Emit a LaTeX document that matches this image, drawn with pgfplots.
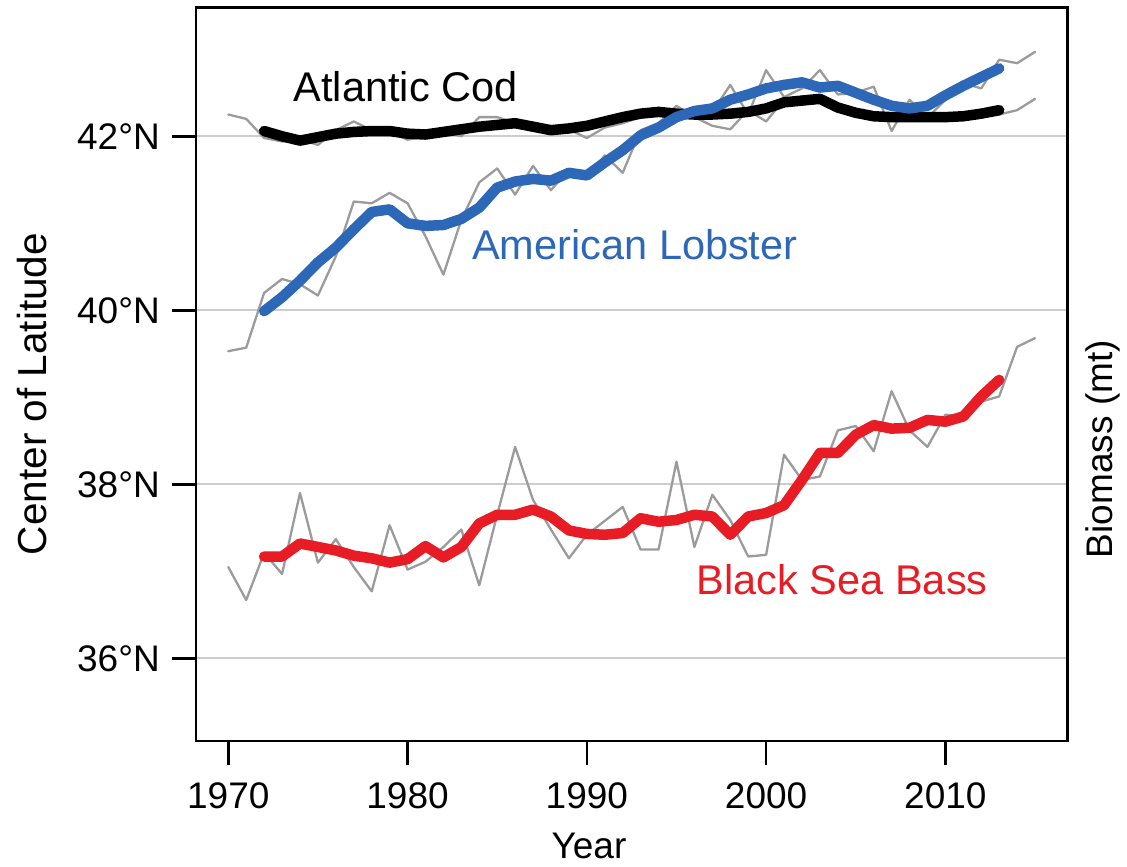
\documentclass[border=0pt]{standalone}
\usepackage{fontspec}
\setmainfont{Liberation Sans}
\usepackage{pgfplots}
\usepackage{pgfplotstable}
\pgfplotsset{compat=1.18}

\definecolor{lobsterblue}{RGB}{44,103,184}
\definecolor{bassred}{RGB}{232,28,36}
\definecolor{rawgray}{RGB}{155,155,155}
\definecolor{gridgray}{RGB}{205,205,205}

% annual centre of latitude (thin grey lines)
\pgfplotstableread{
year cod   lobster bass
1970 42.25 39.53 37.05
1971 42.20 39.57 36.67
1972 41.98 40.20 37.21
1973 41.94 40.36 36.97
1974 41.97 40.30 37.90
1975 41.90 40.17 37.10
1976 42.07 40.62 37.37
1977 42.17 41.25 37.05
1978 42.07 41.23 36.77
1979 42.05 41.35 37.53
1980 41.96 41.23 37.02
1981 42.00 40.85 37.11
1982 42.05 40.41 37.28
1983 42.00 41.04 37.48
1984 42.22 41.47 36.84
1985 42.22 41.63 37.65
1986 42.15 41.33 38.43
1987 42.12 41.66 37.82
1988 42.05 41.38 37.48
1989 42.08 41.62 37.15
1990 41.98 41.52 37.42
1991 42.10 41.78 37.58
1992 42.15 41.58 37.74
1993 42.22 42.07 37.25
1994 42.32 42.15 37.25
1995 42.30 42.35 38.26
1996 42.22 42.22 37.28
1997 42.12 42.28 37.88
1998 42.08 42.59 37.59
1999 42.30 42.25 37.17
2000 42.17 42.76 37.19
2001 42.42 42.45 38.34
2002 42.45 42.55 38.05
2003 42.42 42.76 38.09
2004 42.32 42.48 38.62
2005 42.25 42.50 38.67
2006 42.22 42.57 38.38
2007 42.20 42.06 39.07
2008 42.25 42.42 38.62
2009 42.22 42.21 38.43
2010 42.18 42.42 38.80
2011 42.20 42.61 38.78
2012 42.22 42.55 38.95
2013 42.25 42.88 39.01
2014 42.30 42.84 39.58
2015 42.43 42.97 39.68
}\rawdata

% smoothed trend (thick lines)
\pgfplotstableread{
year cod   lobster bass
1972 42.06 39.99 37.17
1973 42.00 40.15 37.17
1974 41.95 40.34 37.32
1975 41.99 40.55 37.28
1976 42.03 40.72 37.24
1977 42.05 40.93 37.18
1978 42.06 41.13 37.15
1979 42.06 41.16 37.10
1980 42.03 41.00 37.14
1981 42.02 40.97 37.29
1982 42.05 40.98 37.16
1983 42.08 41.05 37.28
1984 42.11 41.18 37.55
1985 42.13 41.41 37.65
1986 42.15 41.48 37.65
1987 42.11 41.51 37.71
1988 42.07 41.49 37.63
1989 42.09 41.58 37.47
1990 42.12 41.55 37.43
1991 42.17 41.70 37.42
1992 42.22 41.84 37.44
1993 42.26 42.01 37.61
1994 42.28 42.10 37.57
1995 42.26 42.22 37.59
1996 42.25 42.29 37.65
1997 42.25 42.32 37.63
1998 42.26 42.42 37.42
1999 42.28 42.48 37.63
2000 42.32 42.55 37.67
2001 42.39 42.59 37.76
2002 42.41 42.62 38.05
2003 42.43 42.56 38.36
2004 42.33 42.58 38.36
2005 42.27 42.50 38.57
2006 42.23 42.42 38.68
2007 42.22 42.35 38.64
2008 42.22 42.32 38.65
2009 42.22 42.35 38.74
2010 42.22 42.47 38.72
2011 42.23 42.58 38.78
2012 42.26 42.68 39.01
2013 42.30 42.78 39.20
}\smoothdata

\begin{document}
\begin{tikzpicture}
\useasboundingbox (0,0) rectangle (1127pt,867pt);
\begin{axis}[
    at={(196pt,126pt)}, anchor=south west,
    scale only axis, width=871.3pt, height=733.5pt,
    xmin=1968.2, xmax=2016.8,
    ymin=35.05, ymax=43.48,
    clip mode=individual,
    axis line style={line width=2.5pt},
    xtick={1970,1980,1990,2000,2010},
    xticklabels={1970,1980,1990,2000,2010},
    ytick={36,38,40,42},
    yticklabels={36°N,38°N,40°N,42°N},
    xtick pos=bottom, ytick pos=left,
    tick align=outside,
    major tick length=24pt,
    tick style={line width=2.5pt, black},
    ymajorgrids=true,
    grid style={line width=2pt, gridgray},
    ticklabel style={font=\fontsize{37}{40}\selectfont, inner sep=0pt},
    xticklabel style={anchor=north, yshift=-17pt},
    yticklabel style={anchor=east, xshift=-12pt},
    xlabel={Year},
    xlabel style={font=\fontsize{37}{40}\selectfont, inner sep=0pt,
        at={(axis description cs:0.451,-0.1431)}, anchor=center},
    ylabel={Center of Latitude},
    ylabel style={font=\fontsize{40.5}{44}\selectfont, inner sep=0pt,
        at={(axis description cs:-0.1882,0.473)}, anchor=center, rotate=0},
    every axis plot/.append style={line join=round, line cap=round},
]
\addplot[rawgray, line width=2.3pt] table[x=year, y=cod] {\rawdata};
\addplot[rawgray, line width=2.3pt] table[x=year, y=lobster] {\rawdata};
\addplot[rawgray, line width=2.3pt] table[x=year, y=bass] {\rawdata};

\addplot[black, line width=10.5pt] table[x=year, y=cod] {\smoothdata};
\addplot[lobsterblue, line width=10.5pt] table[x=year, y=lobster] {\smoothdata};
\addplot[bassred, line width=10.5pt] table[x=year, y=bass] {\smoothdata};

\node[font=\fontsize{41.5}{45}\selectfont, text=black, inner sep=0pt]
    at (axis cs:1979.89,42.571) {Atlantic Cod};
\node[font=\fontsize{41.5}{45}\selectfont, text=lobsterblue, inner sep=0pt]
    at (axis cs:1992.68,40.756) {American Lobster};
\node[font=\fontsize{41.5}{45}\selectfont, text=bassred, inner sep=0pt]
    at (axis cs:2004.25,36.90) {Black Sea Bass};

\node[font=\fontsize{37}{40}\selectfont, inner sep=0pt, rotate=90]
    at (axis description cs:1.0404,0.398) {Biomass (mt)};
\end{axis}
\end{tikzpicture}
\end{document}
